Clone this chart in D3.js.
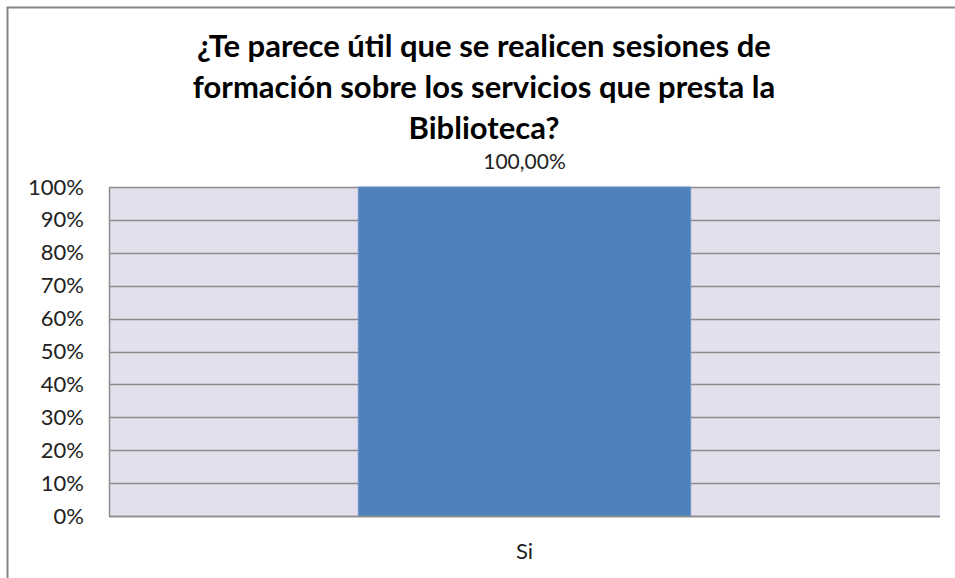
<!DOCTYPE html>
<html>
<head>
<meta charset="utf-8">
<script src="https://cdn.jsdelivr.net/npm/d3@7"></script>
<style>
  body { margin: 0; background: #fff; }
  svg { display: block; }
</style>
</head>
<body>
<div id="chart"></div>
<script>
// data
var categories = ["Si"];
var values = [1.0];
var valueLabels = ["100,00%"];
var yTicks = [0, 0.1, 0.2, 0.3, 0.4, 0.5, 0.6, 0.7, 0.8, 0.9, 1.0];
var titleLines = [
  "¿Te parece útil que se realicen sesiones de",
  "formación sobre los servicios que presta la",
  "Biblioteca?"
];

var width = 955, height = 578;
var margin = { top: 187, right: 15, bottom: 62, left: 109 };
var plotW = width - margin.left - margin.right,
    plotH = height - margin.top - margin.bottom;

var svg = d3.select("#chart").append("svg")
  .attr("width", width)
  .attr("height", height)
  .style("font-family", "Lato, 'Open Sans', sans-serif");

// outer chart frame (runs past the right and bottom edges)
svg.append("rect")
  .attr("x", 7.5).attr("y", 7.5)
  .attr("width", 1000).attr("height", 1000)
  .style("fill", "#fff")
  .style("stroke", "#868686")
  .style("stroke-width", 2);

var g = svg.append("g")
  .attr("transform", "translate(" + margin.left + "," + margin.top + ")");

var x = d3.scaleBand().domain(categories).range([0, plotW]).paddingInner(0).paddingOuter(0);
var y = d3.scaleLinear().domain([0, 1]).range([plotH, 0]);

// plot background
g.append("rect")
  .attr("width", plotW)
  .attr("height", plotH)
  .style("fill", "#e4dfec");

// gridlines
g.selectAll(".grid")
  .data(yTicks)
  .enter().append("line")
  .attr("class", "grid")
  .attr("x1", 0).attr("x2", plotW)
  .attr("y1", function (d) { return Math.round(y(d)) + 0.5; })
  .attr("y2", function (d) { return Math.round(y(d)) + 0.5; })
  .style("stroke", "#8c8c8c")
  .style("stroke-width", 1.5);

// bars: gap width 150%
var barW = x.bandwidth() / 2.5;
g.selectAll(".bar")
  .data(values)
  .enter().append("rect")
  .attr("class", "bar")
  .attr("x", function (d, i) { return x(categories[i]) + (x.bandwidth() - barW) / 2; })
  .attr("y", function (d) { return y(d); })
  .attr("width", barW)
  .attr("height", function (d) { return plotH - y(d); })
  .style("fill", "#4f81bd")
  .style("stroke", "#6f97c9")
  .style("stroke-width", 1);

// axes lines
g.append("line")
  .attr("x1", 0.5).attr("x2", 0.5)
  .attr("y1", 0).attr("y2", plotH)
  .style("stroke", "#8c8c8c").style("stroke-width", 1.5);
g.append("line")
  .attr("x1", 0).attr("x2", plotW)
  .attr("y1", plotH + 0.5).attr("y2", plotH + 0.5)
  .style("stroke", "#8c8c8c").style("stroke-width", 1.5);

// y tick labels
var yAxis = d3.axisLeft(y)
  .tickValues(yTicks)
  .tickFormat(d3.format(".0%"))
  .tickSize(0)
  .tickPadding(25);
var ya = g.append("g").call(yAxis);
ya.select(".domain").remove();
ya.selectAll("text")
  .style("font-family", "Lato, 'Open Sans', sans-serif")
  .style("font-size", "22px")
  .style("fill", "#222");

// x category labels
var xAxis = d3.axisBottom(x).tickSize(0).tickPadding(27);
var xa = g.append("g").attr("transform", "translate(0," + plotH + ")").call(xAxis);
xa.select(".domain").remove();
xa.selectAll("text")
  .style("font-family", "Lato, 'Open Sans', sans-serif")
  .style("font-size", "22px")
  .style("fill", "#222");

// data labels
g.selectAll(".vlabel")
  .data(values)
  .enter().append("text")
  .attr("class", "vlabel")
  .attr("x", function (d, i) { return x(categories[i]) + x.bandwidth() / 2; })
  .attr("y", function (d) { return y(d) - 18; })
  .attr("text-anchor", "middle")
  .style("font-size", "21px")
  .style("fill", "#222")
  .text(function (d, i) { return valueLabels[i]; });

// title
svg.append("g").selectAll("text")
  .data(titleLines)
  .enter().append("text")
  .attr("x", 484)
  .attr("y", function (d, i) { return 57 + i * 41; })
  .attr("text-anchor", "middle")
  .style("font-size", "31px")
  .style("font-weight", "bold")
  .style("fill", "#000")
  .text(function (d) { return d; });
</script>
</body>
</html>
